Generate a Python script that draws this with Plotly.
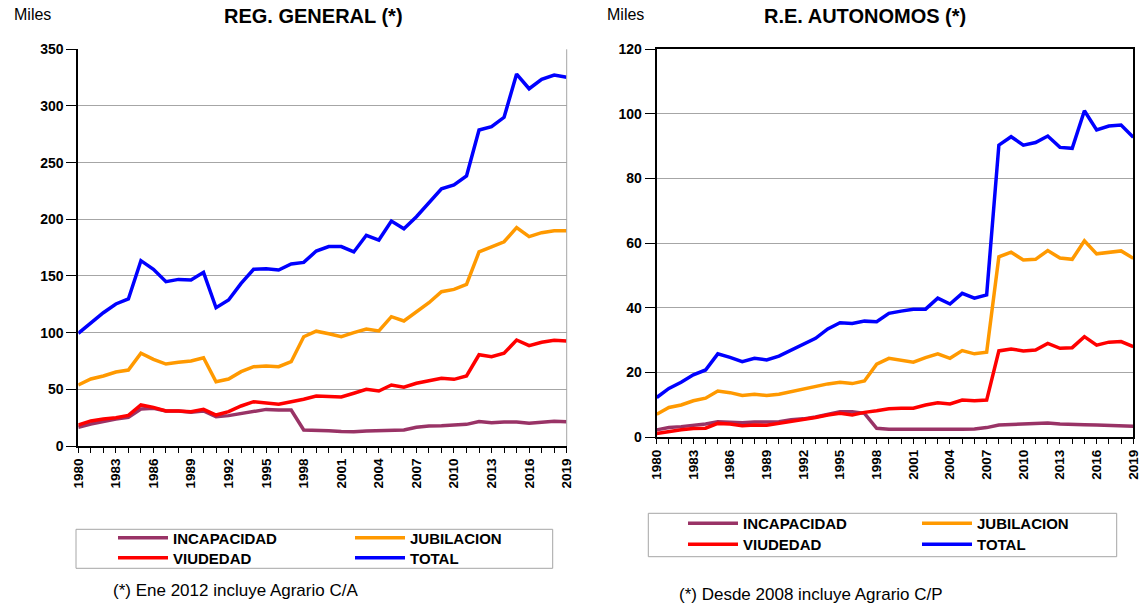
import plotly.graph_objects as go

W, H = 1144, 607

years = list(range(1980, 2020))
tick_years = list(range(1980, 2020, 3))
series_names = ["INCAPACIDAD", "JUBILACION", "VIUDEDAD", "TOTAL"]
series_colors = ["#993366", "#FF9900", "#FF0000", "#0000FF"]

gen_incapacidad = [16.5, 19.4, 21.5, 23.8, 25.3, 32.6, 33.2, 30.9, 30.9, 29.7,
                   30.9, 25.9, 26.8, 28.8, 30.9, 32.3, 31.8, 31.8, 14.1, 14.1,
                   13.5, 12.9, 12.6, 13.2, 13.5, 14.1, 14.1, 16.5, 17.6, 17.9,
                   18.5, 19.1, 21.5, 20.6, 21.2, 21.2, 20.0, 20.9, 21.8, 21.5]
gen_jubilacion = [53.8, 59.1, 61.8, 65.3, 67.0, 81.8, 76.5, 72.3, 73.8, 75.0,
                  77.9, 56.7, 59.1, 65.6, 70.0, 70.6, 70.0, 74.4, 96.4, 101.3,
                  99.0, 96.4, 100.0, 103.2, 101.5, 114.1, 110.3, 118.2, 126.4, 136.1,
                  138.2, 142.6, 171.2, 175.6, 180.2, 192.6, 184.7, 188.2, 190.0, 190.0]
gen_viudedad = [18.5, 22.1, 23.8, 25.0, 27.0, 36.2, 34.1, 30.9, 30.9, 30.3,
                32.3, 27.3, 30.3, 35.3, 39.1, 38.2, 36.8, 39.1, 41.2, 44.1,
                43.5, 43.2, 46.5, 50.0, 48.5, 53.8, 51.8, 55.3, 57.6, 59.7,
                58.8, 61.8, 80.5, 78.8, 81.8, 93.5, 88.5, 91.5, 93.2, 92.6]
gen_total = [99.4, 108.8, 117.6, 125.3, 129.7, 163.5, 155.9, 145.0, 147.0, 146.4,
             153.2, 122.0, 128.8, 143.5, 155.9, 156.4, 155.3, 160.6, 162.0, 172.0,
             176.0, 176.0, 171.2, 185.9, 181.7, 198.5, 191.7, 202.3, 214.1, 227.0,
             230.3, 238.2, 278.8, 281.7, 290.0, 328.2, 315.2, 323.5, 327.3, 325.3]

aut_incapacidad = [2.3, 3.0, 3.3, 3.7, 4.1, 4.8, 4.7, 4.5, 4.7, 4.7,
                   4.8, 5.4, 5.7, 6.3, 7.2, 7.9, 7.9, 7.4, 2.8, 2.5,
                   2.5, 2.5, 2.3, 2.3, 2.4, 2.5, 2.6, 3.0, 3.8, 4.0,
                   4.2, 4.2, 4.4, 4.1, 4.1, 3.9, 3.8, 3.7, 3.5, 3.4]
aut_jubilacion = [7.1, 9.2, 10.0, 11.3, 12.1, 14.3, 13.8, 12.9, 13.3, 12.9,
                  13.3, 14.1, 15.1, 15.7, 16.5, 17.0, 16.6, 17.4, 22.6, 24.4,
                  23.7, 23.2, 24.6, 25.8, 24.4, 26.8, 25.8, 26.3, 55.8, 57.2,
                  54.8, 55.0, 57.7, 55.4, 55.0, 60.7, 56.7, 57.2, 57.6, 55.3]
aut_viudedad = [1.2, 1.8, 2.3, 2.7, 2.8, 4.3, 4.1, 3.6, 3.8, 3.7,
                4.3, 4.8, 5.6, 6.1, 6.9, 7.4, 6.9, 7.7, 8.2, 8.8,
                9.0, 9.0, 10.0, 10.7, 10.3, 11.5, 11.3, 11.5, 26.7, 27.3,
                26.7, 27.0, 29.0, 27.5, 27.7, 31.1, 28.5, 29.4, 29.6, 28.0]
aut_total = [12.3, 15.1, 17.0, 19.3, 20.8, 25.8, 24.7, 23.4, 24.4, 23.9,
             25.1, 27.0, 29.0, 30.6, 33.5, 35.4, 35.2, 35.9, 35.7, 38.3,
             39.0, 39.6, 39.6, 43.0, 41.2, 44.5, 43.0, 44.0, 90.3, 92.9,
             90.3, 91.1, 93.1, 89.6, 89.3, 100.9, 95.0, 96.2, 96.5, 92.7]

gen_series = [gen_incapacidad, gen_jubilacion, gen_viudedad, gen_total]
aut_series = [aut_incapacidad, aut_jubilacion, aut_viudedad, aut_total]

FONT = "Arial, Liberation Sans, sans-serif"

def px(x):
    return x / W

def py(y):
    return 1 - y / H

fig = go.Figure()

# each legend entry gets its own legend so rows/columns can be placed like the reference
left_leg = ["legend", "legend2", "legend3", "legend4"]
right_leg = ["legend5", "legend6", "legend7", "legend8"]

for name, color, vals, lg in zip(series_names, series_colors, gen_series, left_leg):
    fig.add_trace(go.Scatter(x=years, y=vals, name=name, mode="lines",
                             line=dict(color=color, width=3.5),
                             xaxis="x", yaxis="y", legend=lg, hoverinfo="skip"))
for name, color, vals, lg in zip(series_names, series_colors, aut_series, right_leg):
    fig.add_trace(go.Scatter(x=years, y=vals, name=name, mode="lines",
                             line=dict(color=color, width=3.5),
                             xaxis="x2", yaxis="y2", legend=lg, hoverinfo="skip"))

xcommon = dict(range=[1980, 2019], tickvals=tick_years, ticktext=[str(t) for t in tick_years],
               tickangle=-90, ticks="outside", ticklen=5, tickcolor="black",
               ticklabelstandoff=0,
               tickfont=dict(family=FONT, size=13.5, color="black", weight="bold"),
               showgrid=False, zeroline=False, showline=True, linecolor="black",
               minor=dict(dtick=1, tick0=1980, ticks="outside", ticklen=5, tickcolor="black", showgrid=False))
ycommon = dict(ticks="outside", ticklen=10, tickcolor="black",
               tickfont=dict(family=FONT, size=14, color="black", weight="bold"),
               showgrid=True, gridcolor="#A6A6A6", gridwidth=1, zeroline=False,
               showline=True, linecolor="black")

fig.update_layout(
    width=W, height=H,
    margin=dict(l=0, r=0, t=0, b=0, autoexpand=False),
    paper_bgcolor="white", plot_bgcolor="white",
    showlegend=True,
    xaxis=dict(**xcommon, domain=[px(78.3), px(566.7)], anchor="y", linewidth=2),
    yaxis=dict(**ycommon, domain=[py(446), py(49.3)], anchor="x",
               range=[0, 350], dtick=50, linewidth=2),
    xaxis2=dict(**xcommon, domain=[px(656.7), px(1133.3)], anchor="y2", linewidth=2, mirror=True),
    yaxis2=dict(**ycommon, domain=[py(437.3), py(49)], anchor="x2",
                range=[0, 120], dtick=20, linewidth=2, mirror=True),
)

legfont = dict(family=FONT, size=15, color="black", weight="bold")
legcommon = dict(orientation="v", font=legfont, bgcolor="rgba(0,0,0,0)", borderwidth=0,
                 itemwidth=50, xanchor="left", yanchor="top", tracegroupgap=0)
ROWTOP = 17  # distance from legend top to item centre
fig.update_layout(
    legend=dict(**legcommon, x=px(113), y=py(538.5 - ROWTOP)),
    legend2=dict(**legcommon, x=px(350), y=py(538.5 - ROWTOP)),
    legend3=dict(**legcommon, x=px(113), y=py(558.5 - ROWTOP)),
    legend4=dict(**legcommon, x=px(350), y=py(558.5 - ROWTOP)),
    legend5=dict(**legcommon, x=px(683), y=py(524 - ROWTOP)),
    legend6=dict(**legcommon, x=px(917), y=py(524 - ROWTOP)),
    legend7=dict(**legcommon, x=px(683), y=py(545 - ROWTOP)),
    legend8=dict(**legcommon, x=px(917), y=py(545 - ROWTOP)),
)

shapes = [
    # gray right border for left chart
    dict(type="line", xref="x domain", yref="y domain", x0=1, x1=1, y0=0, y1=1,
         line=dict(color="#A6A6A6", width=1)),
    # legend boxes
    dict(type="rect", xref="paper", yref="paper", x0=px(76), x1=px(552.7), y0=py(568.3), y1=py(529.3),
         line=dict(color="#A6A6A6", width=1)),
    dict(type="rect", xref="paper", yref="paper", x0=px(648.3), x1=px(1116.7), y0=py(556.7), y1=py(513.3),
         line=dict(color="#A6A6A6", width=1)),
]
fig.update_layout(shapes=shapes)

ann = [
    dict(text="Miles", x=px(11.5), y=py(14), xanchor="left", yanchor="middle",
         font=dict(family=FONT, size=16, color="black")),
    dict(text="<b>REG. GENERAL (*)</b>", x=px(313.5), y=py(16.5), xanchor="center", yanchor="middle",
         font=dict(family=FONT, size=20, color="black")),
    dict(text="Miles", x=px(605), y=py(14), xanchor="left", yanchor="middle",
         font=dict(family=FONT, size=16, color="black")),
    dict(text="<b>R.E. AUTONOMOS (*)</b>", x=px(864.5), y=py(16.5), xanchor="center", yanchor="middle",
         font=dict(family=FONT, size=20, color="black")),
    dict(text="(*) Ene 2012 incluye Agrario C/A", x=px(111), y=py(590.5), xanchor="left", yanchor="middle",
         font=dict(family=FONT, size=17, color="black")),
    dict(text="(*) Desde 2008 incluye Agrario C/P", x=px(677), y=py(594), xanchor="left", yanchor="middle",
         font=dict(family=FONT, size=17, color="black")),
]
for a in ann:
    a.update(xref="paper", yref="paper", showarrow=False)
fig.update_layout(annotations=ann)

# remove the default 8px page margin so the 1144x607 figure fills the window exactly
fig.write_html("out.html", config={"displayModeBar": False},
               post_script="document.body.style.margin='0px';")
